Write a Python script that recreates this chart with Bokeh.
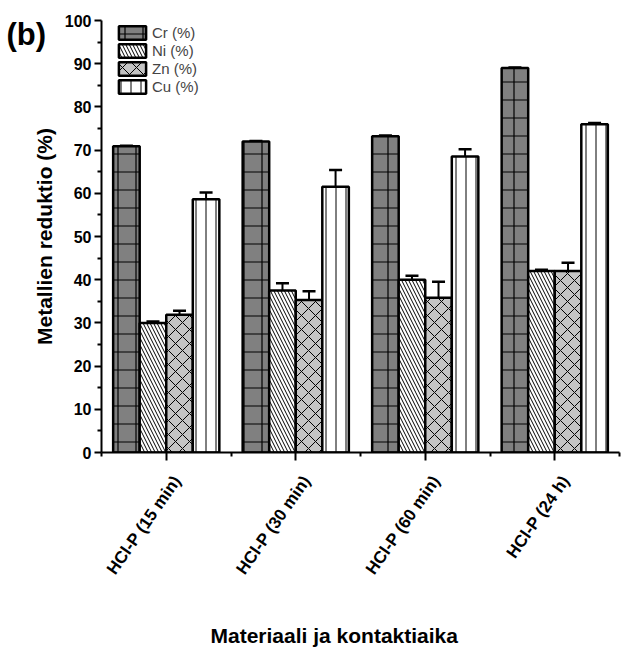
import math
import numpy as np
from bokeh.plotting import figure
from bokeh.models import (ColumnDataSource, FixedTicker, Whisker, TeeHead, Legend,
                          LegendItem, Label, Range1d, LinearAxis, Title,
                          CustomJSTickFormatter, CustomLabelingPolicy)
from bokeh.embed import file_html
from bokeh.resources import INLINE

# ---------------- data ----------------
groups = ["HCl-P (15 min)", "HCl-P (30 min)", "HCl-P (60 min)", "HCl-P (24 h)"]
series_names = ["Cr (%)", "Ni (%)", "Zn (%)", "Cu (%)"]
cr = [70.9, 72.0, 73.2, 89.0]
ni = [30.0, 37.5, 40.0, 42.0]
zn = [31.9, 35.3, 35.8, 42.0]
cu = [58.6, 61.5, 68.5, 76.0]
cr_err = [0.1, 0.1, 0.2, 0.1]
ni_err = [0.3, 1.7, 0.9, 0.3]
zn_err = [0.9, 2.0, 3.7, 1.9]
cu_err = [1.6, 3.9, 1.7, 0.3]
y_ticks = list(range(0, 101, 10))
y_minor = list(range(5, 100, 10))

values = [cr, ni, zn, cu]
errors = [cr_err, ni_err, zn_err, cu_err]

# ---------------- styles ----------------
FONT = "Liberation Sans"
bar_w = 0.205
offsets = [-1.5 * bar_w, -0.5 * bar_w, 0.5 * bar_w, 1.5 * bar_w]
styles = [
    dict(fill_color="#808080", hatch_pattern="cross", hatch_scale=18, hatch_weight=1.2),
    dict(fill_color="#ffffff", hatch_pattern="left_diagonal_line", hatch_scale=7, hatch_weight=1),
    dict(fill_color="#c4c4c4", hatch_pattern="diagonal_cross", hatch_scale=14, hatch_weight=1),
    dict(fill_color="#ffffff", hatch_pattern="vertical_line", hatch_scale=10, hatch_weight=1),
]

centers = np.arange(1, len(groups) + 1)

p = figure(width=621, height=650, output_backend="svg", toolbar_location=None,
           x_range=Range1d(0.5, 4.5), y_range=Range1d(0, 100),
           min_border_left=101, min_border_right=2, min_border_top=20, min_border_bottom=198)
p.outline_line_color = None
p.xgrid.visible = False
p.ygrid.visible = False
p.background_fill_color = "white"

items = []
for name, vals, errs, off, st in zip(series_names, values, errors, offsets, styles):
    src = ColumnDataSource(dict(x=centers + off, top=vals,
                                upper=np.array(vals) + np.array(errs),
                                lower=np.array(vals) - np.array(errs)))
    r = p.vbar(x="x", top="top", width=bar_w, bottom=0, source=src,
               line_color="black", line_width=2.5, hatch_color="black", **st)
    items.append(LegendItem(label=name, renderers=[r]))
    w = Whisker(base="x", upper="upper", lower="lower", source=src,
                line_color="black", line_width=2,
                upper_head=TeeHead(size=13, line_width=2.5, line_color="black"),
                lower_head=TeeHead(size=13, line_width=2.5, line_color="black"))
    p.add_layout(w)

legend = Legend(items=items, location=(14, 357), glyph_width=34, glyph_height=17,
                label_height=17, spacing=1, padding=0, margin=0,
                label_text_font=FONT, label_text_font_size="15px", label_standoff=3,
                border_line_color=None, background_fill_alpha=0)
p.add_layout(legend)

# primary x axis: ticks only (labels suppressed by a labeling policy)
xa = p.xaxis[0]
xa.ticker = FixedTicker(ticks=list(centers), minor_ticks=list(np.arange(0.5, len(groups) + 1, 1.0)))
xa.major_label_policy = CustomLabelingPolicy(
    code="for (let i = 0; i < indices.size; i++) { indices.unset(i) } return indices")
xa.major_label_standoff = 0

# label axis (rotated group names), shifted slightly right like the reference
lab_shift = 0.085
lab_axis = LinearAxis(ticker=FixedTicker(ticks=list(centers + lab_shift), minor_ticks=[]),
                      formatter=CustomJSTickFormatter(args=dict(labels=groups),
                                                      code="return labels[index];"),
                      axis_line_color=None, major_tick_line_color=None,
                      minor_tick_line_color=None, major_tick_out=0, major_tick_in=0,
                      major_label_orientation=math.radians(55), major_label_standoff=17,
                      major_label_text_font=FONT, major_label_text_font_style="bold",
                      major_label_text_font_size="17px", major_label_text_color="black")
p.add_layout(lab_axis, "below")

ya = p.yaxis[0]
ya.ticker = FixedTicker(ticks=y_ticks, minor_ticks=y_minor)
ya.axis_label = "Metallien reduktio (%)"
ya.axis_label_standoff = 6
ya.major_label_standoff = 3

for ax in (xa, ya):
    ax.axis_line_width = 2
    ax.axis_line_color = "black"
    ax.major_tick_line_width = 2
    ax.minor_tick_line_width = 2
    ax.major_tick_in = 0
    ax.minor_tick_in = 0
    ax.major_tick_out = 7
    ax.minor_tick_out = 4
    ax.major_label_text_font = FONT
    ax.major_label_text_font_style = "bold"
    ax.major_label_text_color = "black"
    ax.axis_label_text_font = FONT
    ax.axis_label_text_font_style = "bold"
    ax.axis_label_text_font_size = "21px"
    ax.axis_label_text_color = "black"
xa.major_tick_out = 8
xa.major_label_text_font_size = "0px"
ya.major_label_text_font_size = "16px"

# panel tag "(b)": a side-panel annotation is not clipped to the frame; it sits in the
# below stack between the tick labels and the axis title, drawn at its data position
p.add_layout(Label(x=-0.234, y=100.7, text="(b)",
                   text_font=FONT, text_font_style="bold", text_font_size="31px",
                   text_align="left", text_baseline="top", text_color="black"), "below")

# x axis title
p.add_layout(Title(text="Materiaali ja kontaktiaika", align="left", offset=109,
                   standoff=0, text_font=FONT, text_font_style="bold",
                   text_font_size="21px", text_color="black"), "below")

open("out.html", "w").write(file_html(p, INLINE))
